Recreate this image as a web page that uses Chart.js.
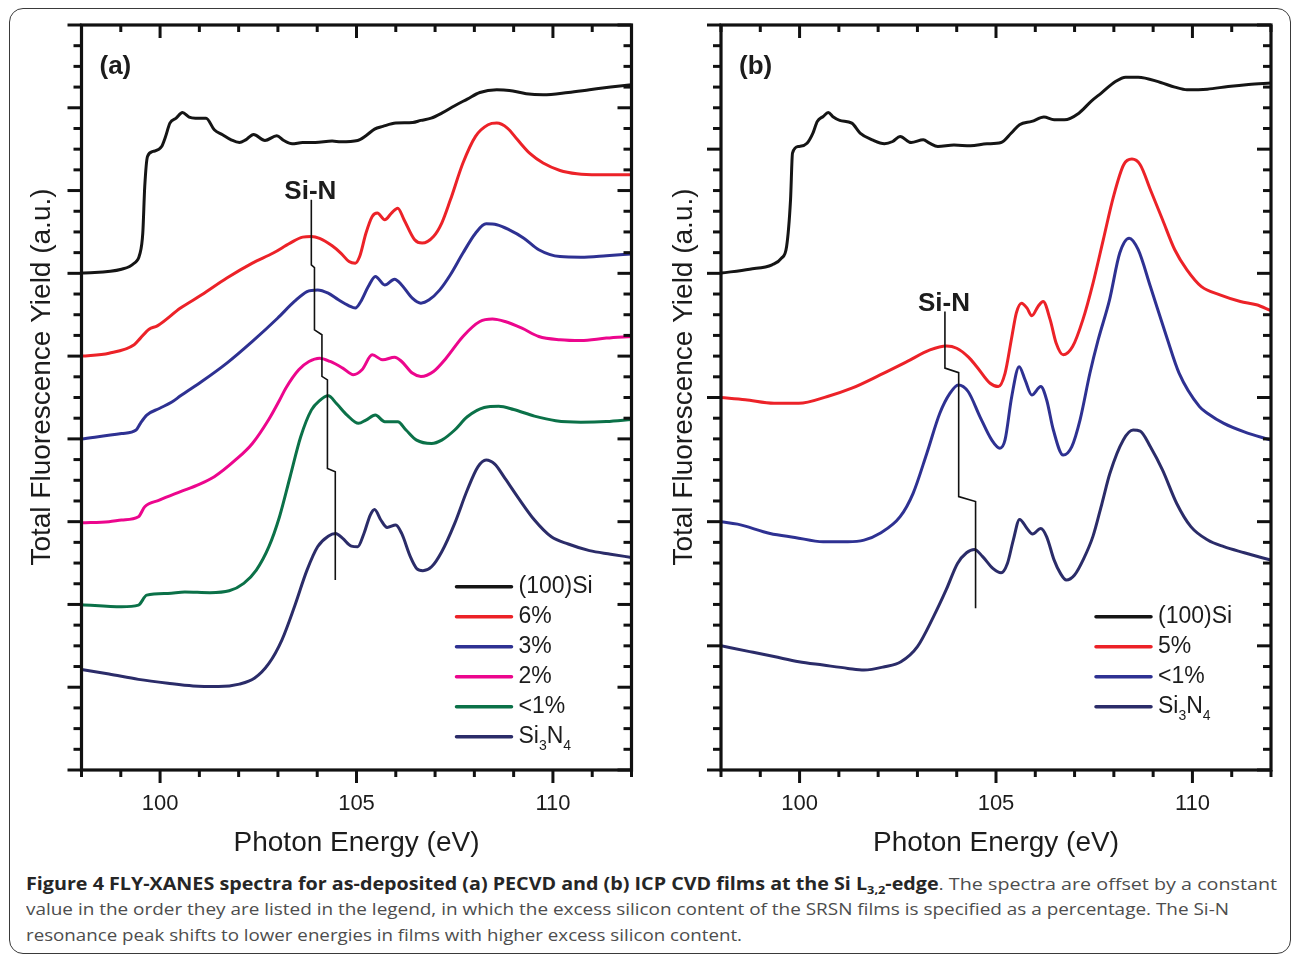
<!DOCTYPE html>
<html>
<head>
<meta charset="utf-8">
<script src="https://cdn.jsdelivr.net/npm/chart.js@4.4.1/dist/chart.umd.min.js"></script>
<style>
  html, body { margin: 0; padding: 0; background: #fff; }
  body { width: 1293px; height: 955px; position: relative; overflow: hidden; }
  #frame { position: absolute; left: 9px; top: 8px; width: 1282px; height: 946px; box-sizing: border-box;
           border: 1.5px solid #3a3a3a; border-radius: 14px; }
  #ca { position: absolute; left: 0; top: 0; }
  #cb { position: absolute; left: 660px; top: 0; }
  .cap { position: absolute; left: 26px; font-family: 'Open Sans', sans-serif; font-size: 17px; line-height: 25.5px;
         color: #4d4d4d; white-space: nowrap; transform-origin: 0 0; }
  .cap b { color: #262626; font-weight: 700; }
  .cap sub { font-size: 11px; line-height: 0; vertical-align: -4px; }
</style>
</head>
<body>
<div id="frame"></div>
<canvas id="ca" width="660" height="860"></canvas>
<canvas id="cb" width="633" height="860"></canvas>
<div class="cap" id="cap1" style="top:870.7px"><b>Figure 4 FLY-XANES spectra for as-deposited (a) PECVD and (b) ICP CVD films at the Si L<sub>3,2</sub>-edge</b>. The spectra are offset by a constant</div>
<div class="cap" id="cap2" style="top:896.2px">value in the order they are listed in the legend, in which the excess silicon content of the SRSN films is specified as a percentage. The Si-N</div>
<div class="cap" id="cap3" style="top:921.7px">resonance peak shifts to lower energies in films with higher excess silicon content.</div>
<script>
// ---------------- data ----------------
const X_MIN = 98, X_MAX = 112;
const X_TICKS = [100, 105, 110];
const Y_MAX = 36;
const X_TITLE = 'Photon Energy (eV)';
const Y_TITLE = 'Total Fluorescence Yield (a.u.)';
const SIN_LABEL = 'Si-N';

// Panel (a): PECVD
const A_TAG = '(a)';
const A_LABELS = ['(100)Si', '6%', '3%', '2%', '<1%', 'Si3N4'];
const A_SI = [[98,24.01],[99.02,24.2],[99.34,24.49],[99.48,24.9],[99.56,25.94],[99.61,28.2],[99.68,29.65],[99.82,29.89],[100.04,30.13],[100.14,30.61],[100.25,31.26],[100.41,31.5],[100.57,31.77],[100.74,31.55],[100.9,31.5],[101.17,31.5],[101.38,30.94],[101.59,30.7],[101.81,30.45],[102.02,30.32],[102.18,30.45],[102.38,30.71],[102.67,30.42],[102.97,30.65],[103.15,30.42],[103.36,30.26],[103.63,30.32],[103.95,30.32],[104.38,30.39],[104.6,30.36],[105.03,30.42],[105.24,30.65],[105.46,30.97],[105.67,31.1],[106.0,31.26],[106.43,31.29],[106.64,31.39],[106.9,31.5],[107.17,31.74],[107.5,32.1],[107.82,32.42],[108.14,32.74],[108.57,32.87],[108.89,32.84],[109.32,32.68],[109.75,32.63],[110.39,32.74],[110.93,32.87],[111.47,33.0],[112,33.11]];
const A_6 = [[98,20.0],[98.7,20.14],[99.34,20.55],[99.5,20.87],[99.72,21.3],[99.93,21.46],[100.52,22.32],[101.06,22.96],[101.7,23.77],[102.35,24.49],[102.88,24.98],[103.31,25.46],[103.63,25.75],[103.85,25.78],[104.06,25.69],[104.38,25.33],[104.6,24.98],[104.81,24.57],[104.97,24.49],[105.08,24.81],[105.24,25.94],[105.4,26.75],[105.53,26.91],[105.72,26.59],[105.89,26.91],[106.05,27.15],[106.21,26.59],[106.48,25.62],[106.67,25.46],[106.96,25.78],[107.17,26.43],[107.39,27.55],[107.71,29.33],[108.03,30.62],[108.35,31.18],[108.57,31.26],[108.84,31.02],[109.1,30.45],[109.42,29.78],[109.75,29.33],[110.18,28.97],[110.61,28.81],[111.14,28.76],[112,28.76]];
const A_3 = [[98,16.0],[99.02,16.26],[99.39,16.43],[99.5,16.75],[99.66,17.15],[99.98,17.47],[100.3,17.78],[100.52,18.08],[101.06,18.77],[101.7,19.66],[102.35,20.71],[102.99,21.83],[103.42,22.64],[103.74,23.12],[104.01,23.2],[104.28,23.04],[104.54,22.72],[104.81,22.43],[104.97,22.32],[105.11,22.64],[105.3,23.36],[105.48,23.85],[105.72,23.44],[105.97,23.72],[106.15,23.44],[106.42,22.8],[106.64,22.56],[106.85,22.72],[107.12,23.2],[107.39,23.93],[107.71,24.98],[108.03,25.94],[108.3,26.39],[108.57,26.35],[108.89,26.1],[109.26,25.7],[109.64,25.14],[110.18,24.81],[110.71,24.78],[111.36,24.85],[112,24.94]];
const A_2 = [[98,11.95],[98.7,12.0],[99.02,12.08],[99.45,12.24],[99.61,12.72],[99.98,13.04],[100.52,13.45],[100.95,13.77],[101.38,14.17],[101.92,14.98],[102.35,15.78],[102.77,16.95],[103.04,17.87],[103.2,18.45],[103.53,19.34],[103.79,19.74],[104.06,19.9],[104.33,19.74],[104.65,19.42],[104.92,19.1],[105.14,19.34],[105.4,20.06],[105.67,19.82],[105.97,19.95],[106.15,19.74],[106.42,19.18],[106.64,19.02],[106.96,19.26],[107.28,19.9],[107.71,20.95],[108.14,21.67],[108.46,21.79],[108.78,21.67],[109.21,21.35],[109.64,20.95],[110.18,20.79],[110.71,20.75],[111.36,20.87],[112,20.95]];
const A_1 = [[98,7.99],[99.02,7.89],[99.45,7.97],[99.66,8.45],[100.2,8.53],[100.63,8.6],[101.27,8.57],[101.76,8.66],[102.13,9.02],[102.45,9.66],[102.77,10.79],[103.04,12.24],[103.31,14.17],[103.58,16.1],[103.85,17.39],[104.06,17.85],[104.28,18.08],[104.49,17.71],[104.76,17.15],[105.05,16.75],[105.24,16.91],[105.48,17.15],[105.72,16.83],[106.05,16.83],[106.26,16.43],[106.53,15.94],[106.91,15.78],[107.17,15.94],[107.5,16.43],[107.82,17.07],[108.25,17.52],[108.62,17.58],[109.0,17.42],[109.53,17.1],[110.07,16.88],[110.71,16.81],[111.36,16.84],[112,16.94]];
const A_N = [[98,4.86],[98.7,4.64],[99.45,4.38],[100.2,4.19],[100.84,4.06],[101.49,4.03],[102.02,4.15],[102.4,4.43],[102.77,5.15],[103.1,6.28],[103.42,7.89],[103.74,9.66],[104.01,10.79],[104.28,11.3],[104.47,11.43],[104.65,11.19],[104.87,10.82],[105.03,10.79],[105.19,11.43],[105.35,12.32],[105.46,12.59],[105.62,12.08],[105.78,11.72],[106.0,11.84],[106.15,11.43],[106.37,10.31],[106.53,9.74],[106.69,9.63],[106.91,9.82],[107.17,10.55],[107.5,11.92],[107.82,13.53],[108.09,14.65],[108.3,14.98],[108.52,14.78],[108.78,14.09],[109.1,13.2],[109.53,12.08],[109.96,11.27],[110.39,10.92],[110.93,10.6],[111.47,10.43],[112,10.27]];
const A_SIN = [[103.85,27.55],[103.85,24.41],[103.93,24.28],[103.93,21.27],[104.12,21.03],[104.12,19.02],[104.26,18.85],[104.26,14.57],[104.46,14.41],[104.46,9.18]];

// Panel (b): ICP CVD
const B_TAG = '(b)';
const B_LABELS = ['(100)Si', '5%', '<1%', 'Si3N4'];
const B_SI = [[98,24.01],[98.73,24.2],[99.3,24.41],[99.54,24.73],[99.67,25.3],[99.77,27.55],[99.82,29.81],[99.98,30.13],[100.19,30.29],[100.34,30.78],[100.45,31.34],[100.6,31.58],[100.73,31.77],[100.86,31.55],[101.02,31.39],[101.33,31.26],[101.54,30.78],[101.85,30.45],[102.16,30.26],[102.37,30.37],[102.56,30.61],[102.84,30.32],[103.15,30.45],[103.31,30.29],[103.52,30.13],[103.93,30.2],[104.35,30.16],[104.77,30.26],[105.13,30.32],[105.39,30.78],[105.6,31.18],[105.91,31.34],[106.22,31.55],[106.48,31.42],[106.74,31.42],[107.11,31.74],[107.42,32.31],[107.68,32.71],[108.04,33.27],[108.3,33.48],[108.62,33.48],[109.19,33.22],[109.55,33.0],[109.86,32.87],[110.38,32.9],[110.91,33.03],[111.43,33.13],[112,33.2]];
const B_5 = [[98,18.0],[98.62,17.89],[99.35,17.72],[99.98,17.72],[100.71,18.05],[101.33,18.45],[102.05,19.09],[102.73,19.73],[103.32,20.3],[103.74,20.49],[104.0,20.38],[104.3,19.95],[104.51,19.49],[104.85,18.69],[105.06,18.53],[105.23,19.17],[105.4,20.9],[105.52,22.1],[105.65,22.56],[105.79,22.32],[105.91,21.95],[106.07,22.4],[106.2,22.64],[106.38,21.75],[106.53,20.63],[106.71,20.06],[106.95,20.46],[107.21,21.75],[107.47,23.53],[107.73,25.62],[107.99,27.71],[108.25,29.25],[108.46,29.52],[108.67,29.25],[108.93,28.04],[109.24,26.59],[109.55,25.14],[109.86,24.17],[110.23,23.36],[110.7,22.96],[111.22,22.64],[111.63,22.48],[112,22.2]];
const B_1 = [[98,12.0],[98.42,11.88],[99.25,11.43],[99.88,11.24],[100.6,11.03],[101.23,11.03],[101.64,11.11],[102.05,11.44],[102.56,12.24],[102.89,13.37],[103.24,15.31],[103.57,17.24],[103.83,18.21],[104.04,18.61],[104.29,18.29],[104.59,17.08],[104.89,15.95],[105.1,15.55],[105.23,15.95],[105.4,18.04],[105.59,19.49],[105.74,18.85],[105.91,18.12],[106.14,18.53],[106.29,17.88],[106.46,16.43],[106.71,15.22],[106.93,15.63],[107.14,16.92],[107.39,19.17],[107.6,20.78],[107.89,22.72],[108.15,24.98],[108.39,25.7],[108.62,25.14],[108.93,23.36],[109.34,20.95],[109.66,19.18],[110.18,17.56],[110.39,17.23],[110.8,16.75],[111.32,16.34],[112,15.94]];
const B_N = [[98,6.0],[98.73,5.72],[99.35,5.48],[99.98,5.23],[100.6,5.07],[101.23,4.91],[101.64,4.83],[102.16,4.99],[102.58,5.23],[103.0,5.96],[103.41,7.41],[103.73,8.7],[104.02,9.98],[104.25,10.5],[104.45,10.66],[104.66,10.31],[104.92,9.74],[105.13,9.53],[105.29,9.98],[105.44,11.11],[105.6,12.11],[105.79,11.67],[105.93,11.4],[106.14,11.67],[106.29,11.27],[106.48,10.14],[106.64,9.5],[106.79,9.18],[107.0,9.42],[107.23,10.2],[107.47,11.3],[107.7,12.9],[107.9,14.34],[108.24,15.95],[108.49,16.43],[108.67,16.38],[108.93,15.62],[109.24,14.49],[109.6,12.88],[109.96,11.76],[110.39,11.11],[110.8,10.79],[111.32,10.5],[112,10.14]];
const B_SIN = [[103.7,22.15],[103.7,19.42],[104.05,19.2],[104.05,13.21],[104.48,12.97],[104.48,7.82]];

// ---------------- styles ----------------
const FONT = "'Liberation Sans', Arial, Helvetica, sans-serif";
const TEXT_COLOR = '#1c1c1c';
const A_COLORS = ['#151515', '#ec2228', '#2e3192', '#ec068d', '#0b7148', '#2b2c69'];
const B_COLORS = ['#151515', '#ec2228', '#2e3192', '#2b2c69'];

// ---------------- plugins ----------------
const frameTicks = {
  id: 'frameTicks',
  afterDatasetsDraw(chart, args, o) {
    const { ctx, chartArea: a, scales: { x, y } } = chart;
    ctx.save();
    ctx.strokeStyle = '#111';
    ctx.lineCap = 'butt';
    ctx.lineWidth = 3;
    const seg = (x1, y1, x2, y2) => { ctx.beginPath(); ctx.moveTo(x1, y1); ctx.lineTo(x2, y2); ctx.stroke(); };
    for (let v = X_MIN; v <= X_MAX; v++) {
      const major = v % 5 === 0;
      const px = x.getPixelForValue(v);
      seg(px, a.bottom, px, a.bottom + (major ? 13 : 7));
      seg(px, a.top, px, a.top + (major ? 13 : 7));
    }
    for (let v = 0; v <= Y_MAX; v++) {
      const major = v % o.yMajor === 0;
      const py = y.getPixelForValue(v);
      const L = major ? 14 : 8;
      seg(a.left - L, py, a.left, py);
      seg(a.right - L, py, a.right, py);
    }
    ctx.lineWidth = 3.2;
    ctx.strokeRect(a.left, a.top, a.right - a.left, a.bottom - a.top);
    ctx.restore();
  }
};

function drawRich(ctx, str, x, y, size) {
  // digits that directly follow a letter are drawn as subscripts (Si3N4)
  let cx = x;
  for (let i = 0; i < str.length; i++) {
    const ch = str[i];
    const sub = /[0-9]/.test(ch) && i > 0 && /[A-Za-z]/.test(str[i - 1]);
    ctx.font = (sub ? Math.round(size * 0.62) : size) + 'px ' + FONT;
    ctx.fillText(ch, cx, sub ? y + 9 : y);
    cx += ctx.measureText(ch).width;
  }
}

const panelText = {
  id: 'panelText',
  afterDraw(chart, args, o) {
    const { ctx, chartArea: a, scales: { x, y } } = chart;
    ctx.save();
    ctx.fillStyle = TEXT_COLOR;
    // y title
    ctx.save();
    ctx.font = '28px ' + FONT;
    ctx.textAlign = 'center';
    ctx.textBaseline = 'middle';
    ctx.translate(o.yTitleX, (a.top + a.bottom) / 2 - 20.5);
    ctx.rotate(-Math.PI / 2);
    ctx.fillText(Y_TITLE, 0, 0);
    ctx.restore();
    // panel tag
    ctx.font = 'bold 26px ' + FONT;
    ctx.textAlign = 'left';
    ctx.textBaseline = 'middle';
    ctx.fillText(o.tag, a.left + 18, a.top + 41.5);
    // Si-N label at top of marker line
    const p0 = o.sin[0];
    ctx.textAlign = 'center';
    ctx.textBaseline = 'alphabetic';
    ctx.fillText(SIN_LABEL, x.getPixelForValue(p0[0]) - 1, y.getPixelForValue(p0[1]) - 1);
    // legend
    const ds = chart.data.datasets.filter(d => !d.isMarker);
    ds.forEach((d, i) => {
      const ry = a.top + o.legendTop + i * 30;
      ctx.strokeStyle = d.borderColor;
      ctx.lineWidth = 3.5;
      ctx.lineCap = 'round';
      ctx.beginPath();
      ctx.moveTo(a.left + 375, ry);
      ctx.lineTo(a.left + 430, ry);
      ctx.stroke();
      ctx.fillStyle = TEXT_COLOR;
      ctx.textAlign = 'left';
      ctx.textBaseline = 'middle';
      drawRich(ctx, d.label, a.left + 437, ry, 23);
    });
    ctx.restore();
  }
};

// ---------------- charts ----------------
function buildDatasets(series, labels, colors, marker) {
  const out = series.map((s, i) => ({
    label: labels[i],
    data: s.map(([e, v]) => ({ x: e, y: v })),
    borderColor: colors[i],
    backgroundColor: colors[i],
    borderWidth: 3,
    pointRadius: 0,
    fill: false,
    cubicInterpolationMode: 'monotone'
  }));
  out.push({
    label: SIN_LABEL,
    isMarker: true,
    data: marker.map(([e, v]) => ({ x: e, y: v })),
    borderColor: '#111',
    borderWidth: 1.6,
    pointRadius: 0,
    tension: 0,
    order: -1,
    fill: false
  });
  return out;
}

function makeChart(id, datasets, cfg) {
  return new Chart(document.getElementById(id), {
    type: 'line',
    data: { datasets },
    options: {
      responsive: false,
      animation: false,
      devicePixelRatio: 1,
      events: [],
      layout: { padding: { top: 25, right: cfg.padRight, bottom: 0, left: 0 } },
      plugins: {
        legend: { display: false },
        tooltip: { enabled: false },
        frameTicks: { yMajor: cfg.yMajor },
        panelText: { tag: cfg.tag, sin: cfg.sin, legendTop: cfg.legendTop, yTitleX: cfg.yTitleX }
      },
      scales: {
        x: {
          type: 'linear', min: X_MIN, max: X_MAX, position: 'bottom',
          grid: { display: false, drawTicks: false },
          border: { display: false },
          afterBuildTicks: s => { s.ticks = X_TICKS.map(v => ({ value: v })); },
          afterFit: s => { s.height = 90; },
          ticks: { font: { family: FONT, size: 22 }, color: TEXT_COLOR, padding: 21, maxRotation: 0, autoSkip: false },
          title: { display: true, text: X_TITLE, font: { family: FONT, size: 28 }, color: TEXT_COLOR, padding: { top: 0, bottom: 0 } }
        },
        y: {
          type: 'linear', min: 0, max: Y_MAX,
          grid: { display: false, drawTicks: false },
          border: { display: false },
          ticks: { display: false },
          afterFit: s => { s.width = cfg.yWidth; }
        }
      }
    },
    plugins: [frameTicks, panelText]
  });
}

makeChart('ca', buildDatasets([A_SI, A_6, A_3, A_2, A_1, A_N], A_LABELS, A_COLORS, A_SIN),
  { padRight: 28.5, yWidth: 81.5, yMajor: 4, tag: A_TAG, sin: A_SIN, legendTop: 561.7, yTitleX: 42 });
makeChart('cb', buildDatasets([B_SI, B_5, B_1, B_N], B_LABELS, B_COLORS, B_SIN),
  { padRight: 22, yWidth: 61, yMajor: 6, tag: B_TAG, sin: B_SIN, legendTop: 591.7, yTitleX: 24 });

// ---------------- caption fitting ----------------
const CAP_RIGHT = { cap1: 1277, cap2: 1229, cap3: 742 };
function fitCaption() {
  Object.keys(CAP_RIGHT).forEach(id => {
    const el = document.getElementById(id);
    el.style.transform = 'none';
    const w = el.getBoundingClientRect().width;
    const target = CAP_RIGHT[id] - 26;
    el.style.transform = 'scaleX(' + (target / w) + ')';
  });
}
fitCaption();
if (document.fonts && document.fonts.ready) document.fonts.ready.then(fitCaption);
</script>
</body>
</html>
